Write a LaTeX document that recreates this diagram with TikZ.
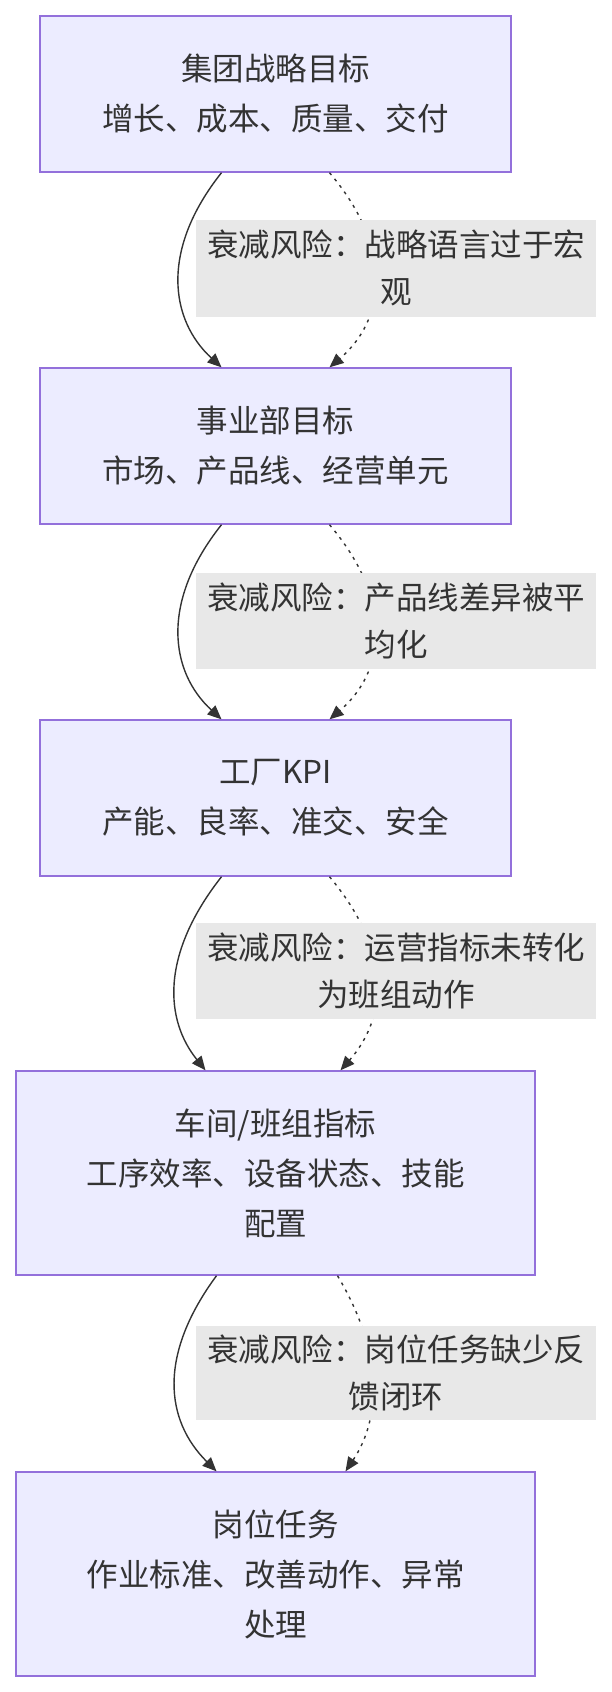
\documentclass[tikz,border=0pt]{standalone}
\usepackage{fontspec}
\setmainfont{Noto Sans CJK SC}
\usetikzlibrary{positioning,arrows.meta}
\definecolor{boxfill}{RGB}{236,236,255}
\definecolor{boxline}{RGB}{147,112,219}
\definecolor{lblfill}{RGB}{232,232,232}
\definecolor{ink}{RGB}{51,51,51}
\tikzset{
  stage/.style={draw=boxline,line width=1.4pt,fill=boxfill,align=center,text=ink,
    font=\fontsize{31.5}{50}\selectfont,minimum width=471pt,inner sep=0pt},
  risk/.style={fill=lblfill,align=center,text=ink,
    font=\fontsize{31.5}{47}\selectfont,minimum width=400pt,inner sep=0pt},
  flow/.style={draw=ink,line width=1.4pt,-{Triangle[length=14pt,width=12pt]}},
  weak/.style={flow,dash pattern=on 3pt off 5pt}
}
\begin{document}
\begin{tikzpicture}[x=1pt,y=-1pt]
\useasboundingbox (0,0) rectangle (612,1692);

% stages
\node[stage,minimum height=156pt] (group) at (275.5,94) {集团战略目标\\增长、成本、质量、交付};
\node[stage,minimum height=156pt] (division) at (275.5,446) {事业部目标\\市场、产品线、经营单元};
\node[stage,minimum height=156pt] (plant) at (275.5,798) {工厂KPI\\产能、良率、准交、安全};
\node[stage,minimum width=519pt,minimum height=204pt] (shop) at (275.5,1173) {车间/班组指标\\工序效率、设备状态、技能\\配置};
\node[stage,minimum width=519pt,minimum height=204pt] (post) at (275.5,1574) {岗位任务\\作业标准、改善动作、异常\\处理};

% solid links
\draw[flow] ([xshift=-54pt]group.south) .. controls (160,250) and (170,320) .. ([xshift=-54pt]division.north);
\draw[flow] ([xshift=-54pt]division.south) .. controls (160,602) and (170,672) .. ([xshift=-54pt]plant.north);
\draw[flow] ([xshift=-54pt]plant.south) .. controls (160,955) and (165,1020) .. ([xshift=-70pt]shop.north);
\draw[flow] ([xshift=-59pt]shop.south) .. controls (158,1355) and (165,1420) .. ([xshift=-59pt]post.north);

% dotted links
\draw[weak] ([xshift=54pt]group.south) .. controls (395,250) and (385,320) .. ([xshift=54pt]division.north);
\draw[weak] ([xshift=54pt]division.south) .. controls (395,602) and (385,672) .. ([xshift=54pt]plant.north);
\draw[weak] ([xshift=54pt]plant.south) .. controls (395,955) and (385,1020) .. ([xshift=65pt]shop.north);
\draw[weak] ([xshift=62pt]shop.south) .. controls (385,1355) and (380,1420) .. ([xshift=70pt]post.north);

% risk labels
\node[risk,minimum height=97pt] (r1) at (396,268) {衰减风险：战略语言过于宏\\观};
\node[risk,minimum height=96pt] (r2) at (396,621) {衰减风险：产品线差异被平\\均化};
\node[risk,minimum height=96pt] (r3) at (396,971) {衰减风险：运营指标未转化\\为班组动作};
\node[risk,minimum height=94pt] (r4) at (396,1373) {衰减风险：岗位任务缺少反\\馈闭环};
\end{tikzpicture}
\end{document}
